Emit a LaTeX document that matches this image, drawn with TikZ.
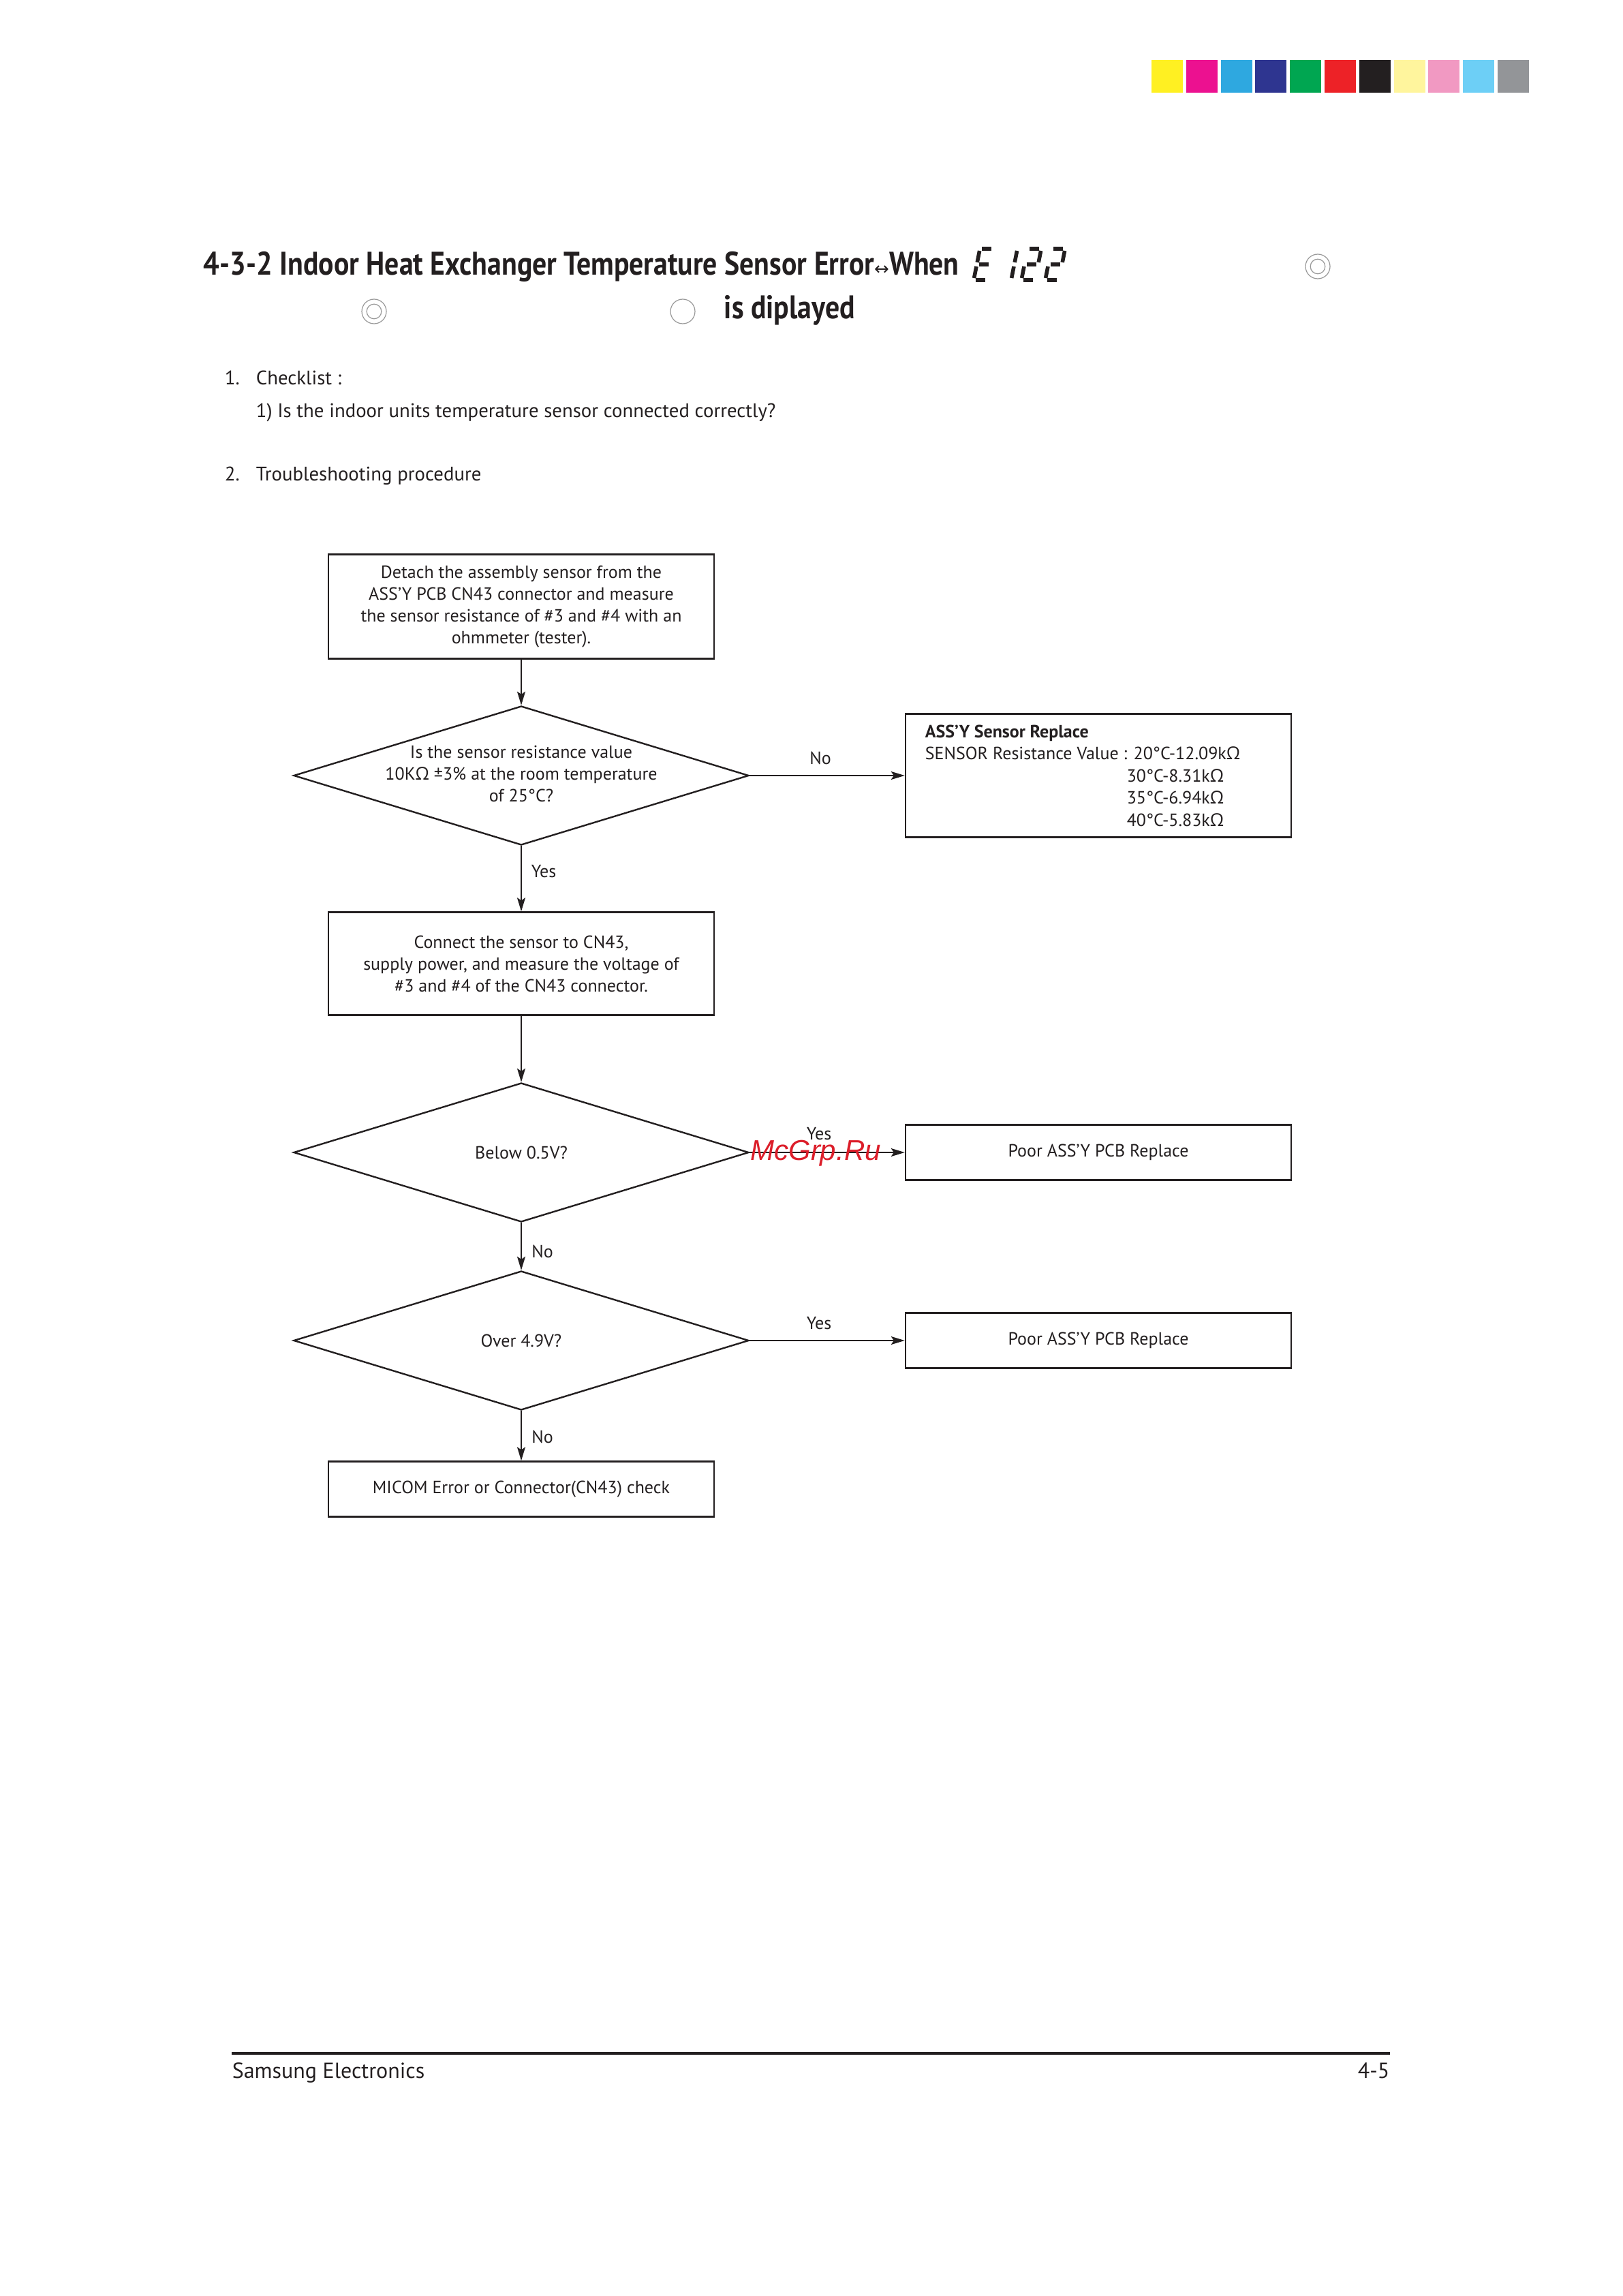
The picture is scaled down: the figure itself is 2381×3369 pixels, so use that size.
\documentclass[tikz,border=0pt]{standalone}
\usepackage{fontspec}
\setmainfont{PT Sans}
\newfontfamily\titlefont[FakeStretch=0.87]{PT Sans}
\newfontfamily\grk{Open Sans}
\newfontfamily\dejavu{DejaVu Sans}
\newfontfamily\wmfont{Liberation Sans}
\usetikzlibrary{shapes.geometric,arrows.meta}
\newcommand{\Om}{{\grk Ω}}
\newcommand{\fcfont}{\fontsize{6.5pt}{8pt}\selectfont}
\newcommand{\bodyfont}{\fontsize{7.2pt}{9pt}\selectfont}
\newcommand{\sgA}{\draw[seg] (3,-46) -- (17,-46);}
\newcommand{\sgB}{\draw[seg] (20,-43) -- (20,-26);}
\newcommand{\sgC}{\draw[seg] (20,-20) -- (20,-3);}
\newcommand{\sgD}{\draw[seg] (3,0) -- (17,0);}
\newcommand{\sgE}{\draw[seg] (0,-20) -- (0,-3);}
\newcommand{\sgF}{\draw[seg] (0,-43) -- (0,-26);}
\newcommand{\sgG}{\draw[seg] (3,-23) -- (17,-23);}
\definecolor{cY}{HTML}{FFF022}
\definecolor{cM}{HTML}{EC1190}
\definecolor{cC}{HTML}{2EA8E0}
\definecolor{cN}{HTML}{2E3590}
\definecolor{cG}{HTML}{00A651}
\definecolor{cR}{HTML}{ED2227}
\definecolor{cK}{HTML}{231F20}
\definecolor{cLY}{HTML}{FFF59D}
\definecolor{cP}{HTML}{F199C2}
\definecolor{cLB}{HTML}{6DCFF6}
\definecolor{cGr}{HTML}{939598}
\definecolor{ink}{HTML}{231F20}
\definecolor{wm}{HTML}{DC1E2A}
\begin{document}
\begin{tikzpicture}[x=0.25pt,y=-0.25pt,
  every node/.style={text=ink},
  box/.style={draw=ink, line width=0.6pt, rectangle, minimum width=141.5pt, inner sep=0pt, align=center, font=\fcfont},
  dia/.style={draw=ink, line width=0.6pt, diamond, aspect=3.3, minimum width=167pt, minimum height=51pt, inner sep=0pt, align=center, font=\fcfont},
  arr/.style={draw=ink, line width=0.5pt, -{Stealth[length=5pt,width=3pt,inset=1pt]}},
  lbl/.style={font=\fcfont, inner sep=0pt},
  txt/.style={font=\bodyfont, inner sep=0pt, anchor=base west},
  seg/.style={draw=ink, line width=1.4pt, line cap=butt},
  ring/.style={draw=black!40, line width=0.3pt}]
\useasboundingbox (0,0) rectangle (2381,3369);
\fill[white] (0,0) rectangle (2381,3369);
% colour bar
\foreach \c [count=\i from 0] in {cY,cM,cC,cN,cG,cR,cK,cLY,cP,cLB,cGr}
  \fill[\c] ({1690+\i*50.8},88) rectangle ({1736+\i*50.8},136);
% title
\node[anchor=base west, inner sep=0pt, font=\titlefont\bfseries\fontsize{12pt}{14pt}\selectfont] (title1) at (298,404)
  {4-3-2 Indoor Heat Exchanger Temperature Sensor Error{\dejavu\mdseries\fontsize{6.5pt}{6.5pt}\selectfont ↔}When};
\node[anchor=base west, inner sep=0pt, font=\titlefont\bfseries\fontsize{12pt}{14pt}\selectfont] (title2) at (1062,468) {is diplayed};
% seven segment E 122
\begin{scope}[shift={(1429,411)}, xslant=0.2]\sgA\sgD\sgE\sgF\sgG\end{scope}
\begin{scope}[shift={(1464,411)}, xslant=0.2]\sgB\sgC\end{scope}
\begin{scope}[shift={(1499,411)}, xslant=0.2]\sgA\sgB\sgG\sgE\sgD\end{scope}
\begin{scope}[shift={(1534,411)}, xslant=0.2]\sgA\sgB\sgG\sgE\sgD\end{scope}
% rings
\draw[ring] (1934,391) circle[radius=4.5pt];
\draw[ring] (1934,391) circle[radius=2.7pt];
\draw[ring] (549,457) circle[radius=4.5pt];
\draw[ring] (549,457) circle[radius=2.7pt];
\draw[ring] (1002,457) circle[radius=4.5pt];
% checklist
\node[txt] (n1) at (329,565) {1.};
\node[txt] (ck) at (375,565) {Checklist :};
\node[txt] (ck1) at (375,613) {1) Is the indoor units temperature sensor connected correctly?};
\node[txt] (n2) at (329,705) {2.};
\node[txt] (tp) at (375,705) {Troubleshooting procedure};
% flowchart
\node[box, minimum height=38.25pt] (b1) at (765,890) {Detach the assembly sensor from the\\ASS'Y PCB CN43 connector and measure\\the sensor resistance of \#3 and \#4 with an\\ohmmeter (tester).};
\node[dia] (d1) at (765,1138) {};
\node[lbl, align=center] (d1t) at (765,1135) {Is the sensor resistance value\\10K\Om\ ±3\% at the room temperature\\of 25°C?};
\node[box, minimum height=45.25pt] (sens) at (1612,1138) {};
\node[lbl, anchor=base west] (s1) at (1357,1082) {\bfseries ASS'Y Sensor Replace};
\node[lbl, anchor=base west] (s2) at (1357,1114) {SENSOR Resistance Value : 20°C-12.09k\Om};
\node[lbl, anchor=base west] (s3) at (1653,1147) {30°C-8.31k\Om};
\node[lbl, anchor=base west] (s4) at (1653,1179) {35°C-6.94k\Om};
\node[lbl, anchor=base west] (s5) at (1653,1212) {40°C-5.83k\Om};
\node[box, minimum height=37.75pt] (b2) at (765,1414) {Connect the sensor to CN43,\\supply power, and measure the voltage of\\\#3 and \#4 of the CN43 connector.};
\node[dia] (d2) at (765,1691) {Below 0.5V?};
\node[box, minimum height=20.25pt] (b3) at (1612,1691) {Poor ASS'Y PCB Replace};
\node[dia] (d3) at (765,1967) {Over 4.9V?};
\node[box, minimum height=20.25pt] (b4) at (1612,1967) {Poor ASS'Y PCB Replace};
\node[box, minimum height=20.25pt] (b5) at (765,2185) {MICOM Error or Connector(CN43) check};
% connectors
\draw[arr] (b1) -- (d1);
\draw[arr] (d1.east) -- (sens.west);
\draw[arr] (d1.south) -- (b2.north);
\draw[arr] (b2.south) -- (d2.north);
\draw[arr] (d2.east) -- (b3.west);
\draw[arr] (d2.south) -- (d3.north);
\draw[arr] (d3.east) -- (b4.west);
\draw[arr] (d3.south) -- (b5.north);
% labels
\node[lbl] (l1) at (1204,1112) {No};
\node[lbl] (l2) at (798,1279) {Yes};
\node[lbl] (l3) at (1202,1664) {Yes};
\node[lbl] (l4) at (796,1836) {No};
\node[lbl] (l5) at (1202,1942) {Yes};
\node[lbl] (l6) at (796,2108) {No};
% watermark
\node[inner sep=0pt, text=wm, font=\wmfont\itshape\fontsize{10.5pt}{12pt}\selectfont] (wmk) at (1197,1692) {McGrp.Ru};
% footer
\draw[ink, line width=0.8pt] (340,3013) -- (2040,3013);
\node[anchor=base west, inner sep=0pt, font=\fontsize{8pt}{10pt}\selectfont] (foot1) at (340,3049) {Samsung Electronics};
\node[anchor=base east, inner sep=0pt, font=\fontsize{8pt}{10pt}\selectfont] (foot2) at (2040,3049) {4-5};
\end{tikzpicture}
\end{document}
